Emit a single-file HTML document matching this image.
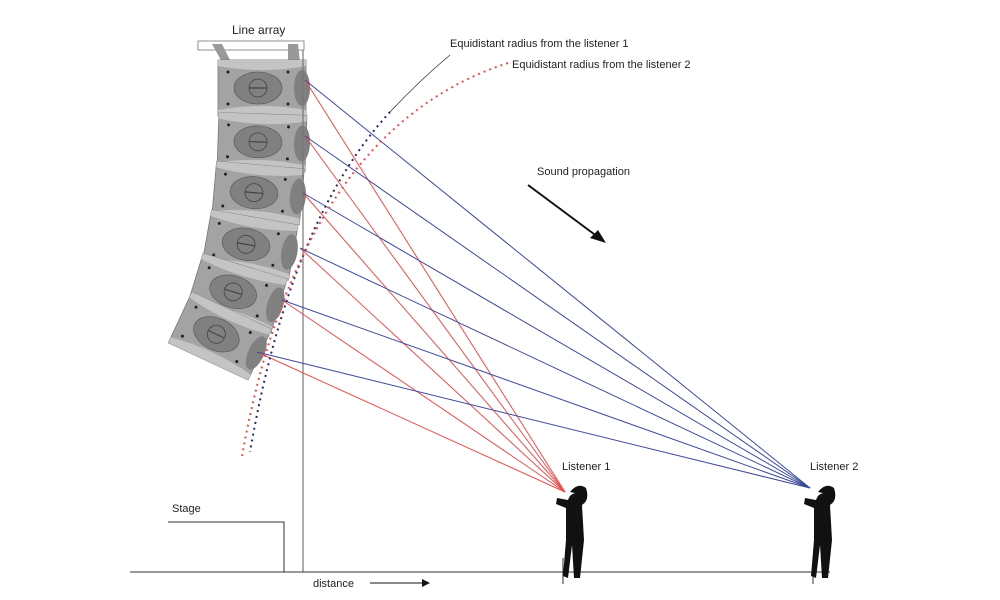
<!DOCTYPE html>
<html><head><style>body{margin:0;background:#fff}svg{display:block}text{font-family:"Liberation Sans",sans-serif;font-size:11px;fill:#222}</style></head>
<body>
<svg width="1000" height="600" viewBox="0 0 1000 600">
<defs>
<g id="cab">
<rect x="-44" y="-28" width="88" height="56" fill="#a3a3a3" stroke="#777" stroke-width="0.8"/>
<path d="M-44,-28 L44,-28 L44,-22 Q0,-14 -44,-22 Z" fill="#c4c4c4"/>
<path d="M-44,28 L44,28 L44,22 Q0,14 -44,22 Z" fill="#c4c4c4"/>
<ellipse cx="-4" cy="0" rx="24" ry="16" fill="#808080" stroke="#555" stroke-width="0.6"/>
<circle cx="-4" cy="0" r="9" fill="none" stroke="#444" stroke-width="0.8"/>
<line x1="-13" y1="0" x2="5" y2="0" stroke="#444" stroke-width="1.2"/>
<ellipse cx="40" cy="0" rx="8" ry="18" fill="#808080"/>
<circle cx="-34" cy="-16" r="1.5" fill="#222"/><circle cx="-34" cy="16" r="1.5" fill="#222"/>
<circle cx="26" cy="-16" r="1.5" fill="#222"/><circle cx="26" cy="16" r="1.5" fill="#222"/>
</g>
</defs>
<text x="232" y="34" style="font-size:12px">Line array</text>
<rect x="198" y="41" width="106" height="9" fill="#fff" stroke="#777" stroke-width="0.8"/>
<path d="M212,44 L222,44 L230,60 L222,62 Z" fill="#999"/>
<path d="M288,44 L298,44 L300,62 L288,62 Z" fill="#999"/>
<use href="#cab" transform="translate(262,88)"/>
<use href="#cab" transform="translate(262,142) rotate(2)"/>
<use href="#cab" transform="translate(258,193) rotate(5)"/>
<use href="#cab" transform="translate(250,245) rotate(10)"/>
<use href="#cab" transform="translate(237,293) rotate(17)"/>
<use href="#cab" transform="translate(220,336) rotate(25)"/>
<line x1="303" y1="50" x2="303" y2="572" stroke="#777" stroke-width="1.2"/>
<g stroke-width="1" fill="none">
<g stroke="#e8504f">
<line x1="305" y1="80" x2="565" y2="492"/><line x1="305" y1="136" x2="565" y2="492"/>
<line x1="303" y1="193" x2="565" y2="492"/><line x1="300" y1="248" x2="565" y2="492"/>
<line x1="282" y1="300" x2="565" y2="492"/><line x1="257" y1="352" x2="565" y2="492"/>
</g>
<g stroke="#3d4a9a">
<line x1="305" y1="80" x2="810" y2="488"/><line x1="305" y1="136" x2="810" y2="488"/>
<line x1="303" y1="193" x2="810" y2="488"/><line x1="300" y1="248" x2="810" y2="488"/>
<line x1="282" y1="300" x2="810" y2="488"/><line x1="257" y1="352" x2="810" y2="488"/>
</g>
<path d="M450,55 Q420,80 390,112" stroke="#333" stroke-width="0.8"/>
<path d="M390,112 Q290,220 250,452" stroke="#2a2a6a" stroke-width="2" stroke-dasharray="2,4"/>
<path d="M508,63 Q300,130 242,456" stroke="#e8504f" stroke-width="2" stroke-dasharray="2,4"/>
</g>
<text x="450" y="47">Equidistant radius from the listener 1</text>
<text x="512" y="68">Equidistant radius from the listener 2</text>
<text x="537" y="175">Sound propagation</text>
<line x1="528" y1="185" x2="602" y2="240" stroke="#111" stroke-width="2"/>
<path d="M606,243 L590,238 L598,230 Z" fill="#111"/>
<text x="562" y="470">Listener 1</text>
<text x="810" y="470">Listener 2</text>
<line x1="130" y1="572" x2="830" y2="572" stroke="#333"/>
<polyline points="168,522 284,522 284,572" fill="none" stroke="#333"/>
<text x="172" y="512">Stage</text>
<line x1="563" y1="558" x2="563" y2="584" stroke="#333"/>
<line x1="813" y1="558" x2="813" y2="584" stroke="#333"/>
<text x="313" y="587">distance</text>
<line x1="370" y1="583" x2="428" y2="583" stroke="#111"/>
<path d="M430,583 L422,579 L422,587 Z" fill="#111"/>
<g fill="#111">
<path d="M570,492 Q578,482 586,488 Q590,500 582,505 L584,540 L580,578 L574,578 L572,545 L568,578 L563,576 L566,540 L566,508 L556,504 L557,498 L568,500 Q570,494 575,493 Z"/>
<path d="M818,492 Q826,482 834,488 Q838,500 830,505 L832,540 L828,578 L822,578 L820,545 L816,578 L811,576 L814,540 L814,508 L804,504 L805,498 L816,500 Q818,494 823,493 Z"/>
</g>
</svg>
</body></html>
